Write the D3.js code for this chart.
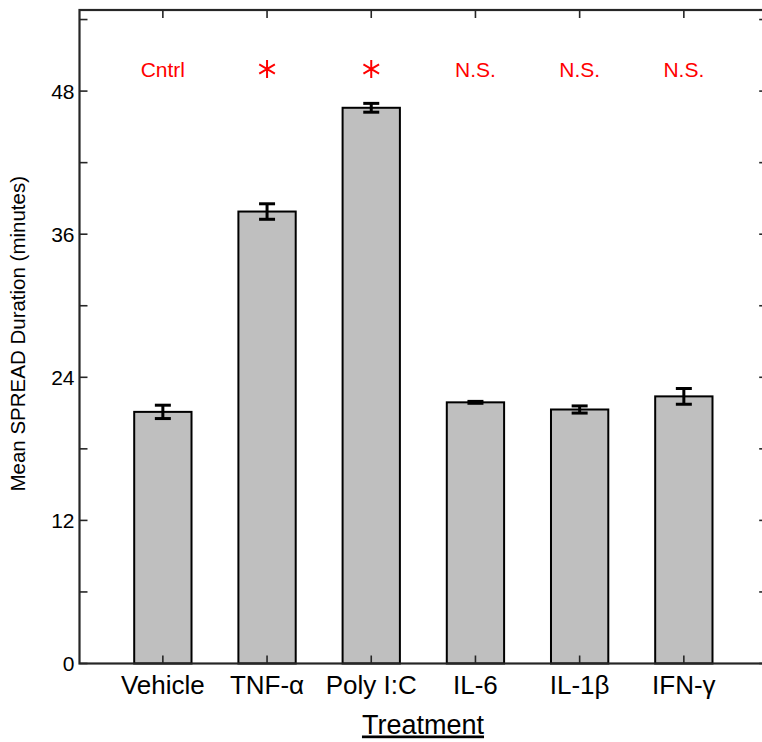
<!DOCTYPE html>
<html>
<head>
<meta charset="utf-8">
<script src="https://cdn.jsdelivr.net/npm/d3@7"></script>
<style>
  body { margin: 0; background: #fff; }
  svg { display: block; font-family: "Liberation Sans", Arial, sans-serif; }
</style>
</head>
<body>
<div id="container"><svg></svg></div>
<script>
let width = 762;
let height = 742;

// data
let treatments = ['Vehicle', 'TNF-α', 'Poly I:C', 'IL-6', 'IL-1β', 'IFN-γ'];
let means = [21.1, 37.9, 46.6, 21.9, 21.3, 22.4];
let errors = [0.56, 0.65, 0.37, 0.08, 0.3, 0.66];
let marks = ['Cntrl', '*', '*', 'N.S.', 'N.S.', 'N.S.'];
let yTicks = [0, 6, 12, 18, 24, 30, 36, 42, 48, 54];
let yLabels = [0, 12, 24, 36, 48];

let axisColor = '#262626';

function draw_chart(containerid) {
    let svg = d3.select('#' + containerid)
        .select('svg')
        .attr('width', width)
        .attr('height', height);

    let x = d3.scaleLinear().domain([0.2, 6.8]).range([79.5, 767.2]);
    let y = d3.scaleLinear().domain([0, 54.8]).range([663.5, 10]);
    let barW = x(1.55) - x(1);

    let data = treatments.map((t, i) => ({
        name: t, pos: i + 1, mean: means[i], err: errors[i], mark: marks[i]
    }));

    // bars
    svg.append('g')
        .selectAll('rect')
        .data(data)
        .join('rect')
        .attr('x', d => x(d.pos) - barW / 2)
        .attr('y', d => y(d.mean))
        .attr('width', barW)
        .attr('height', d => y(0) - y(d.mean))
        .attr('fill', '#bfbfbf')
        .attr('stroke', '#000')
        .attr('stroke-width', 2);

    // error bars
    let eb = svg.append('g')
        .attr('stroke', '#000')
        .attr('stroke-width', 3)
        .selectAll('g')
        .data(data)
        .join('g');
    eb.append('line')
        .attr('x1', d => x(d.pos)).attr('x2', d => x(d.pos))
        .attr('y1', d => y(d.mean + d.err)).attr('y2', d => y(d.mean - d.err));
    eb.append('line')
        .attr('x1', d => x(d.pos) - 8).attr('x2', d => x(d.pos) + 8)
        .attr('y1', d => y(d.mean + d.err)).attr('y2', d => y(d.mean + d.err));
    eb.append('line')
        .attr('x1', d => x(d.pos) - 8).attr('x2', d => x(d.pos) + 8)
        .attr('y1', d => y(d.mean - d.err)).attr('y2', d => y(d.mean - d.err));

    // axes box
    let x0 = x.range()[0], x1 = x.range()[1];
    let y0 = y.range()[0], y1 = y.range()[1];

    let tickLen = 8;
    let ax = svg.append('g')
        .attr('stroke', axisColor)
        .attr('stroke-width', 1.6);
    // y ticks on left and right
    ax.selectAll('.ytl')
        .data(yTicks)
        .join('line')
        .attr('x1', x0).attr('x2', x0 + tickLen)
        .attr('y1', d => y(d)).attr('y2', d => y(d));
    ax.selectAll('.ytr')
        .data(yTicks)
        .join('line')
        .attr('x1', x1).attr('x2', x1 - tickLen)
        .attr('y1', d => y(d)).attr('y2', d => y(d));
    // x ticks on bottom and top
    ax.selectAll('.xtb')
        .data(data)
        .join('line')
        .attr('x1', d => x(d.pos)).attr('x2', d => x(d.pos))
        .attr('y1', y0).attr('y2', y0 - tickLen);
    ax.selectAll('.xtt')
        .data(data)
        .join('line')
        .attr('x1', d => x(d.pos)).attr('x2', d => x(d.pos))
        .attr('y1', y1).attr('y2', y1 + tickLen);

    svg.append('rect')
        .attr('x', x0).attr('y', y1)
        .attr('width', x1 - x0).attr('height', y0 - y1)
        .attr('fill', 'none')
        .attr('stroke', axisColor)
        .attr('stroke-width', 2.2);

    // tick labels
    svg.append('g')
        .selectAll('text')
        .data(yLabels)
        .join('text')
        .attr('x', x0 - 5)
        .attr('y', d => y(d))
        .attr('dy', '0.36em')
        .attr('text-anchor', 'end')
        .style('font-size', '21px')
        .attr('fill', '#000')
        .text(d => d);

    svg.append('g')
        .selectAll('text')
        .data(data)
        .join('text')
        .attr('x', d => x(d.pos))
        .attr('y', 694)
        .attr('text-anchor', 'middle')
        .style('font-size', '26px')
        .attr('fill', '#000')
        .text(d => d.name);

    // significance marks
    let sig = svg.append('g');
    sig.selectAll('text')
        .data(data.filter(d => d.mark !== '*'))
        .join('text')
        .attr('x', d => x(d.pos))
        .attr('y', 77.3)
        .attr('text-anchor', 'middle')
        .style('font-size', '21px')
        .attr('fill', '#ff0000')
        .text(d => d.mark);
    sig.selectAll('path')
        .data(data.filter(d => d.mark === '*'))
        .join('path')
        .attr('transform', d => `translate(${x(d.pos)},69)`)
        .attr('d', d3.symbol(d3.symbolAsterisk, 230))
        .attr('fill', 'none')
        .attr('stroke', '#ff0000')
        .attr('stroke-width', 2);

    // axis titles
    svg.append('text')
        .attr('transform', `translate(25,${(y0 + y1) / 2 - 3}) rotate(-90)`)
        .attr('text-anchor', 'middle')
        .style('font-size', '20.5px')
        .attr('fill', '#000')
        .text('Mean SPREAD Duration (minutes)');

    svg.append('text')
        .attr('x', 423)
        .attr('y', 733.5)
        .attr('text-anchor', 'middle')
        .style('font-size', '27px')
        .style('text-decoration', 'underline')
        .attr('fill', '#000')
        .text('Treatment');
}

function main() {
    draw_chart('container');
}

main()
</script>
</body>
</html>
